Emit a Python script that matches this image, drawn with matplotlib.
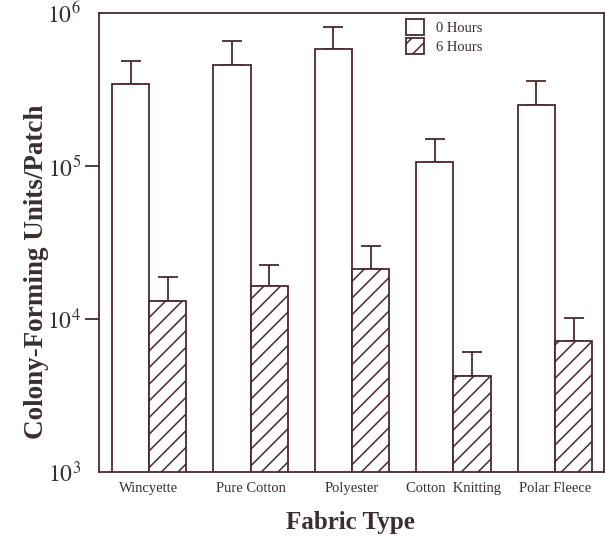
import matplotlib
matplotlib.use("Agg")
import matplotlib.pyplot as plt
import numpy as np

categories = ["Wincyette", "Pure Cotton", "Polyester", "Cotton  Knitting", "Polar Fleece"]
hours0 = [3.44e5, 4.57e5, 5.8e5, 1.07e5, 2.49e5]
hours0_upper = [4.88e5, 6.57e5, 8.09e5, 1.50e5, 3.57e5]
hours6 = [1.32e4, 1.64e4, 2.11e4, 4.23e3, 7.22e3]
hours6_upper = [1.87e4, 2.26e4, 3.02e4, 6.10e3, 1.01e4]
series_labels = ["0 Hours", "6 Hours"]

plt.rcParams['font.family'] = ['Liberation Serif', 'DejaVu Serif']
plt.rcParams['mathtext.fontset'] = 'stix'
plt.rcParams['hatch.linewidth'] = 1.1

ink = '#4a2a30'
txt = '#3a2e2e'
plt.rcParams['hatch.color'] = ink

fig = plt.figure(figsize=(6.05, 5.39), dpi=100)
ax = fig.add_axes([99/605, 1 - 472/539, 505/605, (472-13)/539])

x = np.arange(len(categories))
w = 0.365
h0 = np.array(hours0); h6 = np.array(hours6)
e0 = np.array(hours0_upper) - h0
e6 = np.array(hours6_upper) - h6

ax.bar(x - w/2, h0, w, color='white', edgecolor=ink, linewidth=1.3,
       label=series_labels[0], zorder=2)
ax.bar(x + w/2, h6, w, color='white', edgecolor=ink, linewidth=1.3, hatch='//',
       label=series_labels[1], zorder=2)
ax.errorbar(x - w/2, h0, yerr=[np.zeros_like(e0), e0], fmt='none', ecolor=ink,
            elinewidth=1.3, capsize=7, capthick=1.3, zorder=1)
ax.errorbar(x + w/2, h6, yerr=[np.zeros_like(e6), e6], fmt='none', ecolor=ink,
            elinewidth=1.3, capsize=7, capthick=1.3, zorder=1)

ax.set_yscale('log')
ax.set_ylim(1e3, 1e6)
ax.set_xlim(-0.493, 4.483)
ax.set_yticks([1e3, 1e4, 1e5, 1e6])
ax.set_yticklabels([r'$10^3$', r'$10^4$', r'$10^5$', r'$10^6$'])
ax.yaxis.set_minor_locator(matplotlib.ticker.NullLocator())
ax.tick_params(axis='y', which='major', length=10, width=1.3, color=ink,
               labelsize=17, labelcolor=txt, pad=3)
yt = ax.yaxis.get_major_ticks()
for t in (yt[0], yt[-1]):
    t.tick1line.set_visible(False)
ax.set_xticks(x)
ax.set_xticklabels(categories)
ax.tick_params(axis='x', length=0, labelsize=10.5, labelcolor=txt, pad=7)

for s in ax.spines.values():
    s.set_color(ink)
    s.set_linewidth(1.3)

ax.set_ylabel("Colony-Forming Units/Patch", fontsize=19.5, fontweight='bold', color=txt)
ax.yaxis.set_label_coords(-0.099, 0.436)
ax.set_xlabel("Fabric Type", fontsize=18, fontweight='bold', color=txt)
ax.xaxis.set_label_coords(0.497, -0.085)

leg = ax.legend(loc='upper left', bbox_to_anchor=(0.582, 1.016), frameon=False,
                fontsize=10.5, handlelength=1.25, handleheight=1.3,
                handletextpad=0.8, labelspacing=0.25)
for t in leg.get_texts():
    t.set_color(txt)

fig.savefig("out.png", dpi=100)
